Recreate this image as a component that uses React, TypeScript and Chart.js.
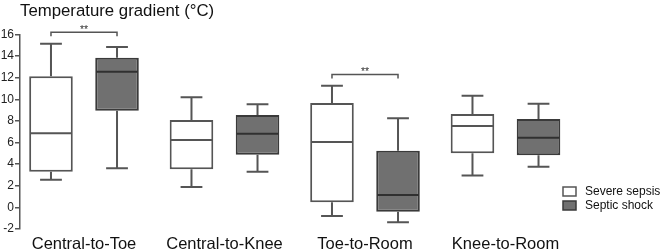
import React, { useEffect, useRef } from 'react';
import { Chart, registerables } from 'chart.js';

Chart.register(...registerables);

// ---- data ----
const categories = ['Central-to-Toe', 'Central-to-Knee', 'Toe-to-Room', 'Knee-to-Room'];
const seriesNames = ['Severe sepsis', 'Septic shock'];

const sepsisMin = [2.55, 1.88, -0.8, 2.95];
const sepsisQ1 = [3.3, 3.53, 0.47, 5.0];
const sepsisMedian = [6.86, 6.24, 6.05, 7.53];
const sepsisQ3 = [12.13, 8.09, 9.66, 8.64];
const sepsisMax = [15.15, 10.19, 11.26, 10.34];

const shockMin = [3.62, 3.3, -1.38, 3.77];
const shockQ1 = [8.95, 4.88, -0.4, 4.82];
const shockMedian = [12.56, 6.82, 1.15, 6.45];
const shockQ3 = [13.85, 8.55, 5.25, 8.18];
const shockMax = [14.84, 9.54, 8.24, 9.6];

const yMin = -2;
const yMax = 16;
const yStep = 2;

const sigCategories = [0, 2];
const sigLevels = [16.2, 12.3];
const sigLabels = ['**', '**'];

// ---- styles ----
const FONT = "'Liberation Sans', Arial, Helvetica, sans-serif";
const fills = ['#ffffff', '#707070'];
const borders = ['#555555', '#3a3a3a'];
const medianColors = ['#555555', '#303030'];
const whiskerColor = '#555555';

const stats = [
  { min: sepsisMin, q1: sepsisQ1, med: sepsisMedian, q3: sepsisQ3, max: sepsisMax },
  { min: shockMin, q1: shockQ1, med: shockMedian, q3: shockQ3, max: shockMax },
];

const boxPlugin = {
  id: 'boxWhiskers',
  afterDatasetsDraw(chart: any) {
    const ctx = chart.ctx;
    const y = chart.scales.y;
    chart.data.datasets.forEach((_ds: any, di: number) => {
      const meta = chart.getDatasetMeta(di);
      const st = stats[di];
      meta.data.forEach((bar: any, i: number) => {
        const { x, width } = bar.getProps(['x', 'width'], true);
        const cap = width / 4;
        const pMin = y.getPixelForValue(st.min[i]);
        const pQ1 = y.getPixelForValue(st.q1[i]);
        const pMed = y.getPixelForValue(st.med[i]);
        const pQ3 = y.getPixelForValue(st.q3[i]);
        const pMax = y.getPixelForValue(st.max[i]);
        ctx.save();
        ctx.lineWidth = 2;
        ctx.strokeStyle = whiskerColor;
        ctx.beginPath();
        ctx.moveTo(x, pQ3);
        ctx.lineTo(x, pMax);
        ctx.moveTo(x - cap, pMax);
        ctx.lineTo(x + cap, pMax);
        ctx.moveTo(x, pQ1);
        ctx.lineTo(x, pMin);
        ctx.moveTo(x - cap, pMin);
        ctx.lineTo(x + cap, pMin);
        ctx.stroke();
        ctx.strokeStyle = medianColors[di];
        ctx.beginPath();
        ctx.moveTo(x - width / 2 + 1, pMed);
        ctx.lineTo(x + width / 2 - 1, pMed);
        ctx.stroke();
        ctx.restore();
      });
    });
  },
};

const sigPlugin = {
  id: 'significance',
  afterDatasetsDraw(chart: any) {
    const ctx = chart.ctx;
    const y = chart.scales.y;
    const m0 = chart.getDatasetMeta(0);
    const m1 = chart.getDatasetMeta(1);
    sigCategories.forEach((ci, k) => {
      const x0 = m0.data[ci].x;
      const x1 = m1.data[ci].x;
      const py = y.getPixelForValue(sigLevels[k]);
      ctx.save();
      ctx.strokeStyle = '#555555';
      ctx.lineWidth = 1.5;
      ctx.beginPath();
      ctx.moveTo(x0, py + 4);
      ctx.lineTo(x0, py);
      ctx.lineTo(x1, py);
      ctx.lineTo(x1, py + 4);
      ctx.stroke();
      ctx.fillStyle = '#333333';
      ctx.font = `10.5px ${FONT}`;
      ctx.textAlign = 'center';
      ctx.textBaseline = 'alphabetic';
      ctx.fillText(sigLabels[k], (x0 + x1) / 2, py + 1);
      ctx.restore();
    });
  },
};

const legendPlugin = {
  id: 'boxLegend',
  afterDraw(chart: any) {
    const ctx = chart.ctx;
    const area = chart.chartArea;
    const left = area.right + 2;
    const top0 = area.bottom - 42;
    chart.data.datasets.forEach((ds: any, i: number) => {
      const top = top0 + i * 14;
      ctx.save();
      ctx.fillStyle = ds.backgroundColor;
      ctx.fillRect(left, top, 13, 9);
      ctx.strokeStyle = ds.borderColor;
      ctx.lineWidth = 1.5;
      ctx.strokeRect(left, top, 13, 9);
      ctx.fillStyle = '#111111';
      ctx.font = `12px ${FONT}`;
      ctx.textAlign = 'left';
      ctx.textBaseline = 'middle';
      ctx.fillText(ds.label, left + 22, top + 5);
      ctx.restore();
    });
  },
};

export default function App() {
  const ref = useRef<HTMLCanvasElement | null>(null);

  useEffect(() => {
    if (!ref.current) return;
    const datasets = stats.map((st, di) => ({
      label: seriesNames[di],
      data: categories.map((_c, i) => ({ x: i, y: [st.q1[i], st.q3[i]] })),
      backgroundColor: fills[di],
      borderColor: borders[di],
      borderWidth: 2,
      borderSkipped: false,
      categoryPercentage: 0.94,
      barPercentage: 0.66,
    }));
    const chart = new Chart(ref.current, {
      type: 'bar',
      data: { datasets: datasets as any },
      options: {
        animation: false,
        responsive: false,
        events: [],
        layout: { padding: { left: 0, right: 100, top: 0, bottom: 0 } },
        plugins: {
          legend: { display: false },
          tooltip: { enabled: false },
          title: {
            display: true,
            text: 'Temperature gradient (°C)',
            align: 'start',
            fullSize: false,
            color: '#111111',
            font: { family: FONT, size: 16.8, weight: 'normal', lineHeight: 1.2 },
            padding: { top: 1.3, bottom: 13 },
          },
        },
        scales: {
          x: {
            type: 'linear',
            min: -0.4555,
            max: 3.395,
            offset: false,
            grid: { display: false, offset: false },
            border: { display: false },
            afterBuildTicks: (scale: any) => {
              scale.ticks = categories.map((_c, i) => ({ value: i }));
            },
            afterFit: (scale: any) => {
              scale.height = 20;
            },
            ticks: {
              autoSkip: false,
              maxRotation: 0,
              padding: -2.5,
              color: '#111111',
              font: { family: FONT, size: 16.5 },
              callback: (value: any) => categories[value as number] ?? '',
            },
          },
          y: {
            min: yMin,
            max: yMax,
            afterFit: (scale: any) => {
              scale.width = 20;
            },
            grid: {
              drawOnChartArea: false,
              drawTicks: true,
              tickLength: 5,
              color: '#555555',
              lineWidth: 1.5,
            },
            border: { display: true, color: '#555555', width: 1.5 },
            ticks: {
              stepSize: yStep,
              padding: 1,
              color: '#222222',
              font: { family: FONT, size: 12 },
            },
          },
        },
      },
      plugins: [boxPlugin, sigPlugin, legendPlugin],
    });
    return () => chart.destroy();
  }, []);

  return (
    <div style={{ position: 'absolute', left: 0, top: 0, width: 661, height: 249, background: '#fff' }}>
      <canvas ref={ref} width={661} height={249} />
    </div>
  );
}
